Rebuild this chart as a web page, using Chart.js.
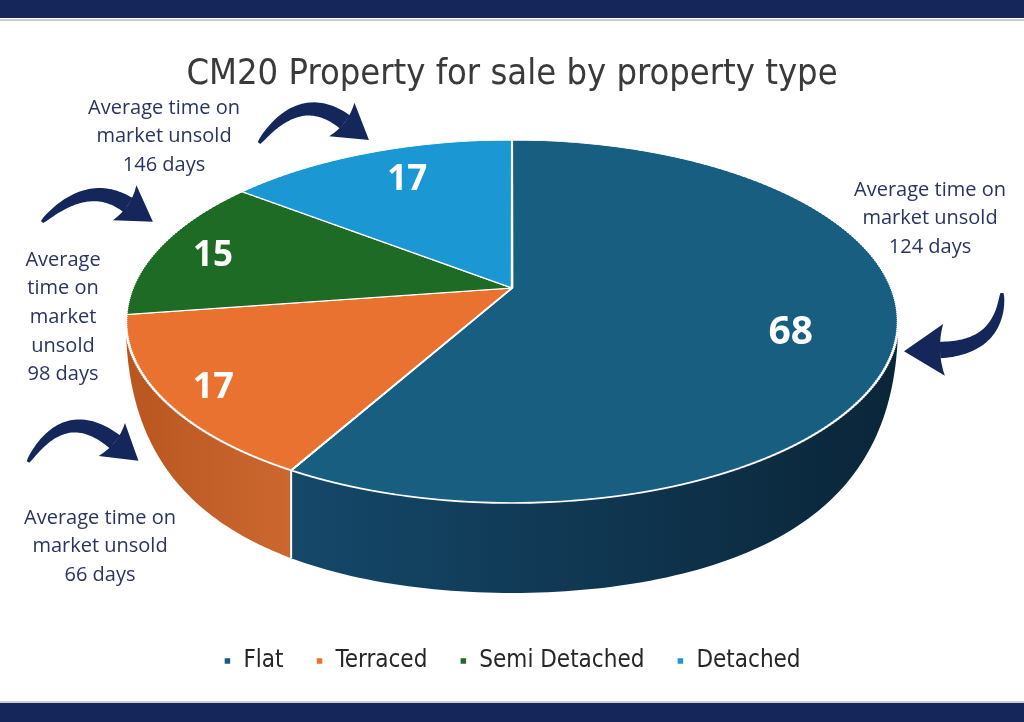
<!DOCTYPE html>
<html><head><meta charset="utf-8">
<script src="https://cdn.jsdelivr.net/npm/chart.js@4.4.1/dist/chart.umd.min.js"></script>
<style>html,body{margin:0;padding:0;background:#fff;overflow:hidden}canvas{display:block}</style>
</head><body>
<canvas id="c" width="1024" height="722"></canvas>
<script>
// ---- data ----
const categories = ['Flat', 'Terraced', 'Semi Detached', 'Detached'];
const counts = [68, 17, 15, 17];
const daysOnMarket = [124, 66, 98, 146];
const titleText = 'CM20 Property for sale by property type';

// ---- style ----
const topColors = ['#185e80', '#e97231', '#1e6b25', '#1b98d4'];
const sideColors = [['#15486a', '#0a2538'], ['#b9561f', '#cc6730'], ['#154d1a', '#154d1a'], ['#12709f', '#12709f']];
const labelFrac = [0.74, 0.873, 0.844, 0.776];
const labelTurn = [3.4, -0.5, -0.4, 2.4];     // degrees
const labelSize = [39, 36, 35, 35];
const TF = "'Liberation Sans Narrow','DejaVu Sans Condensed','Roboto',sans-serif";
const AF = "'Open Sans','Noto Sans',sans-serif";
const navy = '#15265a';
const annoStyle = [
  {x: 930, y: 190, lines: d => ['Average time on', 'market unsold', d + ' days']},
  {x: 100, y: 518, lines: d => ['Average time on', 'market unsold', d + ' days']},
  {x: 63, y: 260, lines: d => ['Average', 'time on', 'market', 'unsold', d + ' days']},
  {x: 164, y: 108, lines: d => ['Average time on', 'market unsold', d + ' days']}
];
const arrows = [
  {tail: [1002, 293], ctrl: [1000, 348], neck: [940, 350], len: 36, half: 26},
  {tail: [28, 462], ctrl: [65, 402], neck: [115, 442], len: 30, half: 21},
  {tail: [42, 222], ctrl: [88, 178], neck: [128, 205], len: 30, half: 21},
  {tail: [259, 143], ctrl: [300, 88], neck: [345, 122], len: 30, half: 21}
];
// perspective projection of the disc: screen offset = (k*X, m*Y) / (1 - q*Y/R)
const proj = {centerY: 288, k: 0.983, m: 0.4541, q: 0.1846, depth: 90, radius: 386};

function project(cx, R, X, Y) {
  const w = 1 / (1 - proj.q * Y / R);
  return [cx + proj.k * X * w, proj.centerY + proj.m * Y * w];
}

function drawArrow(ctx, a) {
  const [x0, y0] = a.tail, [x1, y1] = a.ctrl, [x2, y2] = a.neck;
  const N = 40, left = [], right = [];
  for (let j = 0; j <= N; j++) {
    const t = j / N, u = 1 - t;
    const px = u * u * x0 + 2 * u * t * x1 + t * t * x2;
    const py = u * u * y0 + 2 * u * t * y1 + t * t * y2;
    let dx = 2 * u * (x1 - x0) + 2 * t * (x2 - x1);
    let dy = 2 * u * (y1 - y0) + 2 * t * (y2 - y1);
    const L = Math.hypot(dx, dy); dx /= L; dy /= L;
    const w = 1.5 + 6.8 * Math.pow(t, 0.6);
    left.push([px - dy * w, py + dx * w]);
    right.push([px + dy * w, py - dx * w]);
  }
  let tx = x2 - x1, ty = y2 - y1; const L = Math.hypot(tx, ty); tx /= L; ty /= L;
  const nx = -ty, ny = tx;
  ctx.save();
  ctx.fillStyle = navy;
  ctx.beginPath();
  left.forEach((p, i) => i ? ctx.lineTo(p[0], p[1]) : ctx.moveTo(p[0], p[1]));
  for (let i = right.length - 1; i >= 0; i--) ctx.lineTo(right[i][0], right[i][1]);
  ctx.closePath();
  ctx.fill();
  ctx.beginPath();
  ctx.moveTo(x2 + nx * a.half - tx * 4, y2 + ny * a.half - ty * 4);
  ctx.lineTo(x2 + tx * a.len, y2 + ty * a.len);
  ctx.lineTo(x2 - nx * a.half - tx * 4, y2 - ny * a.half - ty * 4);
  ctx.quadraticCurveTo(x2 + tx * 4, y2 + ty * 4, x2 + nx * a.half - tx * 4, y2 + ny * a.half - ty * 4);
  ctx.closePath();
  ctx.fill();
  ctx.restore();
}

const frame = {
  id: 'frame',
  beforeDraw(chart) {
    const ctx = chart.ctx, W = chart.width, H = chart.height;
    ctx.save();
    ctx.fillStyle = '#fff'; ctx.fillRect(0, 0, W, H);
    ctx.fillStyle = navy; ctx.fillRect(0, 0, W, 18); ctx.fillRect(0, 703, W, H - 703);
    ctx.fillStyle = '#c9cdd8'; ctx.fillRect(0, 19, W, 2); ctx.fillRect(0, 701, W, 2);
    ctx.restore();
  }
};

const pie3d = {
  id: 'pie3d',
  beforeDatasetsDraw(chart) {
    const ctx = chart.ctx, meta = chart.getDatasetMeta(0), arcs = meta.data;
    if (!arcs.length) return;
    const cx = arcs[0].x, cy = arcs[0].y, R = arcs[0].outerRadius;
    const q = proj.q, CY = proj.centerY;
    const rim = (phi, dep) => {
      const p = project(cx, R, R * Math.cos(phi), R * Math.sin(phi));
      let d = 0;
      if (dep) {
        const f = (1 - Math.sin(phi)) / (1 - q);
        d = proj.depth * Math.max(0, 1 - f * f);
      }
      return [p[0], p[1] + d];
    };
    const vis0 = Math.asin(q), vis1 = Math.PI - Math.asin(q);
    // side walls
    arcs.forEach((a, i) => {
      for (let kk = -1; kk <= 1; kk++) {
        const off = 2 * Math.PI * kk;
        const s = Math.max(a.startAngle, vis0 + off), e = Math.min(a.endAngle, vis1 + off);
        if (e <= s) continue;
        const N = 100, top = [], bot = [];
        for (let j = 0; j <= N; j++) {
          const phi = s + (e - s) * j / N;
          top.push(rim(phi, false)); bot.push(rim(phi, true));
        }
        const xs = top.map(p => p[0]);
        const g = ctx.createLinearGradient(Math.min(...xs), 0, Math.max(...xs) + 1, 0);
        g.addColorStop(0, sideColors[i][0]); g.addColorStop(1, sideColors[i][1]);
        ctx.save();
        ctx.beginPath();
        top.forEach((p, j) => j ? ctx.lineTo(p[0], p[1]) : ctx.moveTo(p[0], p[1]));
        for (let j = bot.length - 1; j >= 0; j--) ctx.lineTo(bot[j][0], bot[j][1]);
        ctx.closePath();
        ctx.fillStyle = g; ctx.fill();
        ctx.restore();
      }
    });
    // separators on the side wall
    arcs.forEach(a => {
      let s = a.startAngle; if (s < 0) s += 2 * Math.PI;
      if (s > vis0 + 0.03 && s < vis1 - 0.03) {
        const p0 = rim(s, false), p1 = rim(s, true);
        ctx.save(); ctx.strokeStyle = '#ffffff'; ctx.lineWidth = 2;
        ctx.beginPath(); ctx.moveTo(p0[0], p0[1]); ctx.lineTo(p1[0], p1[1]); ctx.stroke(); ctx.restore();
      }
    });
    // top face: drawn in thin horizontal strips, each with an affine approximation of the perspective
    const mR = proj.m * R;
    const uOf = yp => yp / (mR + q * yp);
    const yTop = Math.floor(CY - mR / (1 + q)) - 3, yBot = Math.ceil(CY + mR / (1 - q)) + 3;
    for (let y = yTop; y < yBot; y += 2) {
      const ya = y - CY, yb = y + 2 - CY;
      const ua = uOf(ya), ub = uOf(yb), um = (ua + ub) / 2;
      const sx = proj.k / (1 - q * um);
      const sy = (yb - ya) / (R * (ub - ua));
      ctx.save();
      ctx.beginPath(); ctx.rect(0, y, chart.width, 2); ctx.clip();
      ctx.translate(cx, CY + ya); ctx.scale(sx, sy); ctx.translate(-cx, -(cy + R * ua));
      meta.controller.draw();
      ctx.restore();
    }
    return false;
  },
  afterDraw(chart) {
    const ctx = chart.ctx, arcs = chart.getDatasetMeta(0).data;
    if (!arcs.length) return;
    const cx = arcs[0].x, R = arcs[0].outerRadius;
    ctx.save();
    ctx.fillStyle = '#ffffff';
    ctx.textAlign = 'center'; ctx.textBaseline = 'alphabetic';
    arcs.forEach((a, i) => {
      const mid = (a.startAngle + a.endAngle) / 2 + labelTurn[i] * Math.PI / 180, r = R * labelFrac[i];
      const p = project(cx, R, r * Math.cos(mid), r * Math.sin(mid));
      ctx.font = "bold " + labelSize[i] + "px " + AF;
      ctx.fillText(String(counts[i]), p[0], p[1] + labelSize[i] * 0.357);
    });
    // annotations
    ctx.textBaseline = 'middle';
    ctx.fillStyle = '#293461';
    ctx.font = "20px " + AF;
    annoStyle.forEach((st, i) => {
      st.lines(daysOnMarket[i]).forEach((t, j) => ctx.fillText(t, st.x, st.y + j * 28.6));
    });
    ctx.restore();
    arrows.forEach(a => drawArrow(ctx, a));
  }
};

new Chart(document.getElementById('c'), {
  type: 'pie',
  data: {
    labels: categories,
    datasets: [{
      data: counts,
      backgroundColor: topColors,
      borderColor: '#ffffff',
      borderWidth: 2.5,
      radius: proj.radius,
      clip: false
    }]
  },
  options: {
    responsive: false,
    animation: false,
    layout: {padding: {top: 0, bottom: 39, left: 0, right: 0}},
    plugins: {
      title: {display: true, text: titleText, color: '#3a3a3a', font: {family: TF, size: 36, weight: 'normal'}, padding: {top: 53, bottom: 10}},
      legend: {position: 'bottom', labels: {color: '#262626', font: {family: TF, size: 24}, boxWidth: 8, boxHeight: 8, padding: 32}},
      tooltip: {enabled: false}
    }
  },
  plugins: [frame, pie3d]
});
</script>
</body></html>
